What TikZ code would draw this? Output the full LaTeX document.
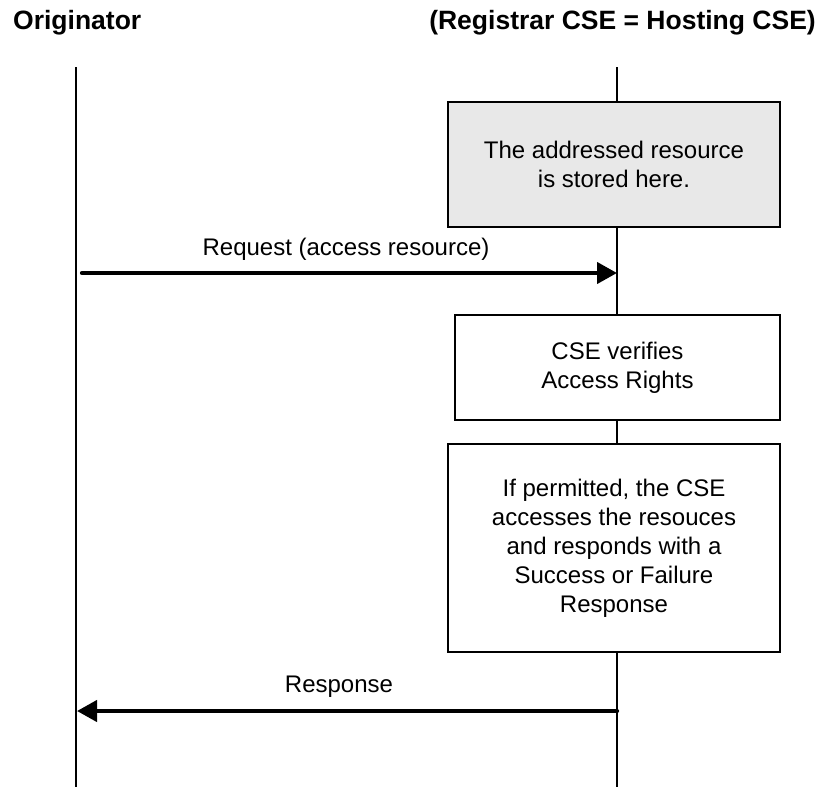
\documentclass[tikz,border=0pt]{standalone}
\usepackage{fontspec}
\setmainfont{Liberation Sans}
\usetikzlibrary{arrows.meta}
\begin{document}
\begin{tikzpicture}[x=1pt,y=-1pt,
  lifeline/.style={line width=1.8pt},
  msg/.style={line width=4.2pt,-{Triangle[length=20pt,width=21pt]}},
  titletext/.style={font=\fontsize{26.5}{30}\selectfont\bfseries,inner sep=0pt},
  msgtext/.style={font=\fontsize{24}{29}\selectfont,inner sep=0pt,anchor=base},
  actbox/.style={draw,line width=1.8pt,fill=white,align=center,inner sep=0pt,
    font=\fontsize{24}{29}\selectfont}
]
\useasboundingbox (0,0) rectangle (821,787);
% titles
\node[titletext,anchor=base west] (orig) at (13,29) {Originator};
\node[titletext,anchor=base east] (host) at (816,29) {(Registrar CSE = Hosting CSE)};
% lifelines
\coordinate (lt) at (76,67);
\coordinate (lb) at (76,787);
\coordinate (rt) at (617,67);
\coordinate (rb) at (617,787);
\draw[lifeline] (lt) -- (lb);
\draw[lifeline] (rt) -- (rb);
% boxes
\node[actbox,fill=black!9,minimum width=332pt,minimum height=125pt] (stored) at (614,164.5)
  {The addressed resource\\is stored here.};
\node[actbox,minimum width=325pt,minimum height=105pt] (verify) at (617.5,367.5)
  {CSE verifies\\Access Rights};
\node[actbox,minimum width=332pt,minimum height=208pt] (access) at (614,548)
  {If permitted, the CSE\\accesses the resouces\\and responds with a\\Success or Failure\\Response};
% messages
\coordinate (reqS) at (82,273);
\coordinate (reqE) at (617,273);
\draw[msg,line cap=round] (reqS) -- (reqE);
\node[msgtext] (reqlbl) at (346,255) {Request (access resource)};
\coordinate (resS) at (617,711);
\coordinate (resE) at (77,711);
\draw[msg,line cap=round] (resS) -- (resE);
\node[msgtext] (reslbl) at (339,692) {Response};
\end{tikzpicture}
\end{document}
